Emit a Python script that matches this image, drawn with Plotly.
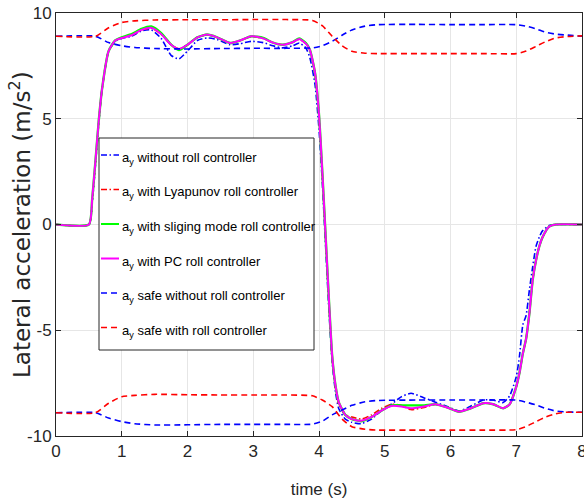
import plotly.graph_objects as go

# ---------------- data ----------------
t_main = [0, 0.5, 0.55, 0.6, 0.65, 0.7, 0.8, 0.9, 1.0, 1.15, 1.3, 1.45, 1.6, 1.75, 1.87,
          2.0, 2.15, 2.3, 2.45, 2.65, 2.8, 2.97, 3.15, 3.3, 3.45, 3.6, 3.7, 3.8, 3.86,
          3.94, 4.0, 4.05, 4.1, 4.15, 4.2, 4.25, 4.3, 4.4, 4.5, 4.64, 4.8, 4.95, 5.1,
          5.25, 5.4, 5.6, 5.77, 5.95, 6.13, 6.3, 6.5, 6.65, 6.8, 6.9, 7.0, 7.05, 7.1,
          7.15, 7.2, 7.25, 7.3, 7.35, 7.4, 7.5, 7.6, 8.0]

ay_without = [0, 0, 1.0, 2.8, 4.8, 6.4, 8.2, 8.65, 8.8, 8.9, 9.15, 9.2, 8.8, 8.0, 7.83,
              8.2, 8.7, 8.82, 8.75, 8.5, 8.55, 8.66, 8.6, 8.45, 8.35, 8.45, 8.58, 8.35, 7.9,
              6.6, 4.5, 2.0, -1.0, -4.0, -6.5, -7.9, -8.7, -9.2, -9.35, -9.42, -9.2, -8.8, -8.5,
              -8.15, -7.98, -8.2, -8.4, -8.6, -8.82, -8.6, -8.3, -8.3, -8.42, -8.1, -7.2, -6.2, -4.75,
              -4.3, -3.09, -2.0, -1.04, -0.6, -0.3, -0.05, 0, 0]

ay_lyapunov = [0, 0, 1.1, 2.9, 4.85, 6.4, 8.2, 8.7, 8.83, 8.95, 9.2, 9.28, 9.0, 8.5, 8.3,
               8.5, 8.85, 8.97, 8.85, 8.58, 8.7, 8.88, 8.8, 8.6, 8.5, 8.62, 8.76, 8.55, 8.25,
               7.1, 5.1, 2.4, -0.6, -3.6, -6.3, -7.7, -8.5, -9.0, -9.1, -9.2, -9.0, -8.7, -8.5,
               -8.55, -8.75, -8.65, -8.5, -8.65, -8.85, -8.7, -8.45, -8.5, -8.69, -8.5, -7.67, -7.0, -6.1,
               -5.4, -4.2, -2.62, -1.7, -1.04, -0.6, -0.1, 0, 0]

ay_sliding = [0, 0, 1.2, 3.0, 4.9, 6.4, 8.2, 8.7, 8.85, 9.0, 9.25, 9.36, 9.05, 8.5, 8.25,
              8.5, 8.85, 8.98, 8.85, 8.58, 8.7, 8.9, 8.82, 8.6, 8.5, 8.62, 8.8, 8.58, 8.28,
              7.15, 5.2, 2.5, -0.5, -3.5, -6.2, -7.6, -8.4, -9.0, -9.2, -9.3, -9.1, -8.8, -8.55,
              -8.55, -8.55, -8.55, -8.5, -8.65, -8.85, -8.7, -8.45, -8.5, -8.69, -8.5, -7.67, -7.0, -6.1,
              -5.4, -4.2, -2.62, -1.7, -1.04, -0.6, -0.1, 0, 0]

ay_pc = [0, 0, 1.2, 3.0, 4.9, 6.4, 8.2, 8.7, 8.82, 8.95, 9.2, 9.3, 9.0, 8.5, 8.3,
         8.5, 8.85, 8.98, 8.85, 8.58, 8.7, 8.9, 8.8, 8.6, 8.5, 8.62, 8.77, 8.55, 8.27,
         7.16, 5.2, 2.5, -0.5, -3.5, -6.2, -7.6, -8.4, -9.0, -9.2, -9.28, -9.1, -8.8, -8.58,
         -8.6, -8.69, -8.6, -8.5, -8.65, -8.85, -8.7, -8.45, -8.5, -8.69, -8.5, -7.67, -7.0, -6.1,
         -5.4, -4.2, -2.62, -1.7, -1.04, -0.6, -0.1, 0, 0]

t_safe = [0, 0.6, 0.8, 1.0, 1.2, 1.5, 2.0, 2.5, 3.0, 3.5, 3.9, 4.05, 4.2, 4.35, 4.5,
          4.7, 4.9, 5.5, 6.0, 6.5, 7.0, 7.15, 7.3, 7.45, 7.6, 7.75, 8.0]

safe_without_pos = [8.9, 8.9, 8.6, 8.45, 8.37, 8.32, 8.3, 8.32, 8.33, 8.33, 8.35, 8.45, 8.66, 8.95, 9.2,
                    9.38, 9.45, 9.46, 9.45, 9.45, 9.45, 9.38, 9.25, 9.09, 9.0, 8.96, 8.9]
safe_with_pos = [8.9, 8.9, 9.3, 9.55, 9.63, 9.67, 9.68, 9.68, 9.69, 9.69, 9.65, 9.4, 8.9, 8.45, 8.19,
                 8.1, 8.08, 8.08, 8.08, 8.08, 8.08, 8.2, 8.42, 8.65, 8.82, 8.88, 8.92]
safe_without_neg = [-8.9, -8.9, -9.15, -9.32, -9.42, -9.48, -9.47, -9.45, -9.45, -9.45, -9.44, -9.3, -9.0, -8.77, -8.55,
                    -8.38, -8.32, -8.3, -8.3, -8.3, -8.3, -8.4, -8.53, -8.7, -8.82, -8.86, -8.88]
safe_with_neg = [-8.9, -8.9, -8.45, -8.14, -8.08, -8.03, -8.05, -8.06, -8.06, -8.06, -8.1, -8.3, -8.61, -9.2, -9.56,
                 -9.68, -9.72, -9.72, -9.72, -9.72, -9.7, -9.55, -9.32, -9.1, -8.95, -8.88, -8.88]

x_ticks = [0, 1, 2, 3, 4, 5, 6, 7, 8]
y_ticks = [-10, -5, 0, 5, 10]
y_tick_labels = ["-10", "-5", "0", "5", "10"]

names = [
    "a<sub>y</sub> without roll controller",
    "a<sub>y</sub> with Lyapunov roll controller",
    "a<sub>y</sub> with sliging mode roll controller",
    "a<sub>y</sub> with PC roll controller",
    "a<sub>y</sub> safe without roll controller",
    "a<sub>y</sub> safe with roll controller",
]

# ---------------- styling ----------------
FONT = "Liberation Sans, Arial, sans-serif"
YFONT = "DejaVu Sans, sans-serif"
INK = "#262626"
BLUE, RED, GREEN, MAG = "#0000ff", "#ff0000", "#00ff00", "#ff00ff"
DASHDOT = "6px,2.5px,1.5px,2.5px"
DASH = "6px,4px"

W, H = 584, 504
L, R, T, B = 56, 2, 13, 68
PW, PH = W - L - R, H - T - B


def px_x(px):
    return (px - L) / PW


def px_y(py):
    return (H - B - py) / PH


fig = go.Figure()

styles = [
    (BLUE, DASHDOT, 1.6),
    (RED, DASHDOT, 1.6),
    (GREEN, "solid", 2.4),
    (MAG, "solid", 2.0),
    (BLUE, DASH, 1.6),
    (RED, DASH, 1.6),
]


def add(x, y, k):
    c, d, w = styles[k]
    fig.add_trace(go.Scatter(
        x=x, y=y, mode="lines", name=names[k], showlegend=False,
        line=dict(color=c, dash=d, width=w, shape="spline", smoothing=0.55),
    ))


add(t_main, ay_without, 0)
add(t_main, ay_lyapunov, 1)
add(t_main, ay_sliding, 2)
add(t_main, ay_pc, 3)
add(t_safe, safe_without_pos, 4)
add(t_safe, safe_without_neg, 4)
add(t_safe, safe_with_pos, 5)
add(t_safe, safe_with_neg, 5)

axis_common = dict(
    showgrid=True, gridcolor="#e6e6e6", gridwidth=1,
    showline=True, linecolor=INK, linewidth=1,
    mirror="ticks", ticks="inside", ticklen=5, tickcolor=INK,
    tickfont=dict(family=FONT, size=17, color=INK),
    zeroline=False, automargin=False, ticklabeloverflow="allow",
)

fig.update_xaxes(range=[0, 8], tickvals=x_ticks, **axis_common,
                 title=dict(text="time (s)", font=dict(family=FONT, size=17, color=INK),
                            standoff=22))
fig.update_yaxes(range=[-10, 10], tickvals=y_ticks, ticktext=y_tick_labels, **axis_common)

fig.add_annotation(
    text="Lateral acceleration (m/s<sup>2</sup>)", xref="paper", yref="paper",
    x=px_x(20), y=px_y(225), textangle=-90, showarrow=False,
    font=dict(family=YFONT, size=23, color=INK), xanchor="center", yanchor="middle",
)

# ---------------- legend box (MATLAB style, drawn in paper coords) ----------------
LEG_X0, LEG_X1, LEG_Y0, LEG_Y1 = 99, 314, 138, 350
ROW_Y = [155, 189.5, 224, 258.5, 293, 327.5]
fig.add_shape(type="rect", xref="paper", yref="paper",
              x0=px_x(LEG_X0), x1=px_x(LEG_X1), y0=px_y(LEG_Y1), y1=px_y(LEG_Y0),
              line=dict(color=INK, width=1), fillcolor="white", layer="above")
for k, ry in enumerate(ROW_Y):
    c, d, w = styles[k]
    fig.add_shape(type="line", xref="paper", yref="paper",
                  x0=px_x(101), x1=px_x(119), y0=px_y(ry), y1=px_y(ry),
                  line=dict(color=c, dash=d, width=min(w, 2)), layer="above")
    fig.add_annotation(text=names[k], xref="paper", yref="paper",
                       x=px_x(119.5), y=px_y(ry + 3.5), xanchor="left", yanchor="middle",
                       showarrow=False, font=dict(family=FONT, size=13, color="#000000"))

fig.update_layout(
    width=W, height=H,
    margin=dict(l=L, r=R, t=T, b=B),
    paper_bgcolor="white", plot_bgcolor="white",
    showlegend=False,
)

fig.write_html("out.html", config={"displayModeBar": False},
               post_script="document.body.style.margin='0px';")
